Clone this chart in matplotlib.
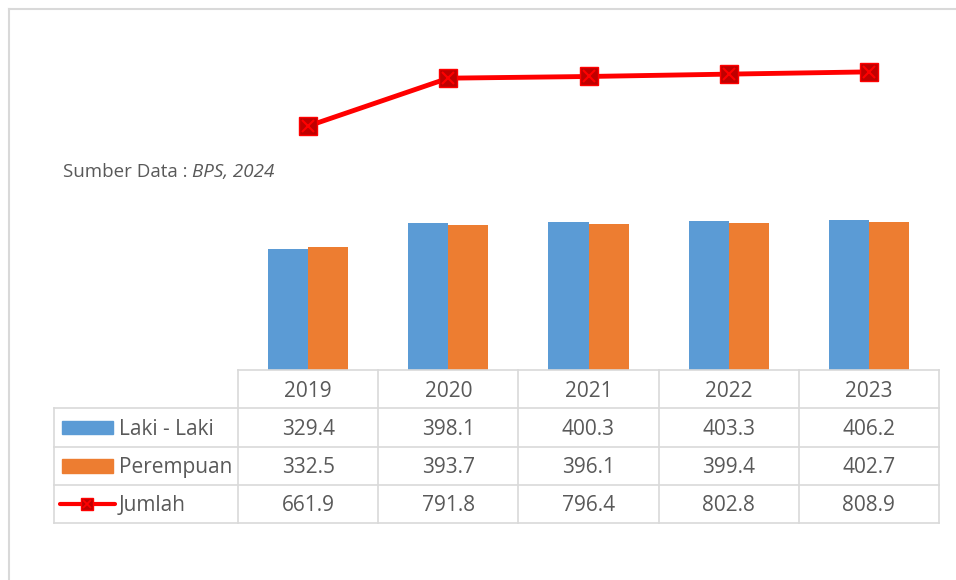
import numpy as np
import matplotlib
matplotlib.use("Agg")
import matplotlib.pyplot as plt
from matplotlib.lines import Line2D
from matplotlib.patches import Rectangle

# Data (BPS, 2024)
years = ['2019', '2020', '2021', '2022', '2023']
laki = [329.4, 398.1, 400.3, 403.3, 406.2]
perempuan = [332.5, 393.7, 396.1, 399.4, 402.7]
jumlah = [661.9, 791.8, 796.4, 802.8, 808.9]
series_names = ['Laki - Laki', 'Perempuan', 'Jumlah']

BLUE = '#5B9BD5'
ORANGE = '#ED7D31'
RED = '#FF0000'
DARKRED = '#C00000'
GRID = '#D9D9D9'
TEXT = '#595959'

W, H = 956, 580
plt.rcParams['font.family'] = ['Open Sans', 'DejaVu Sans']

fig = plt.figure(figsize=(W / 100, H / 100), dpi=100)


def fx(x):
    return x / W


def fy(y):
    return 1 - y / H


# plot area (hidden axes), aligned with table columns
left, right, base, top = 238, 939, 370, 38.3
ax = fig.add_axes([fx(left), fy(base), fx(right - left), fy(top) - fy(base)])
ax.set_xlim(-0.5, len(years) - 0.5)
ax.set_ylim(0, 900)
ax.axis('off')

x = np.arange(len(years))
bw = 0.2857
ax.bar(x - bw / 2, laki, width=bw, color=BLUE)
ax.bar(x + bw / 2, perempuan, width=bw, color=ORANGE)
ax.plot(x, jumlah, color=RED, lw=3.5, marker='s', markersize=12.5,
        markerfacecolor=DARKRED, markeredgecolor=RED, markeredgewidth=1, zorder=3)
ax.plot(x, jumlah, ls='none', marker='x', markersize=9, color=RED, mew=1.5, zorder=4)

# outer frame (top and left edges)
fig.add_artist(Line2D([fx(9), fx(956)], [fy(9), fy(9)], color=GRID, lw=1.5))
fig.add_artist(Line2D([fx(9), fx(9)], [fy(9), fy(580)], color=GRID, lw=1.5))

# source note
t1 = fig.text(fx(63), fy(172), 'Sumber Data : ', fontsize=13.5, color=TEXT,
              va='center', ha='left')
fig.canvas.draw()
bb = t1.get_window_extent()
fig.text(bb.x1 / W, fy(172), 'BPS, 2024', fontsize=13.5, color=TEXT, va='center', ha='left',
         style='italic')

# data table
col_edges = [left + (right - left) / len(years) * i for i in range(len(years) + 1)]
row_edges = [370, 408, 447, 485, 523]
tab_left = 54
lw_grid = 1.2
FS = 15
cap_half = FS * 1.389 * 0.714 / 2

# horizontal lines
fig.add_artist(Line2D([fx(left), fx(right)], [fy(row_edges[0])] * 2, color=GRID, lw=lw_grid))
for ry in row_edges[1:]:
    fig.add_artist(Line2D([fx(tab_left), fx(right)], [fy(ry)] * 2, color=GRID, lw=lw_grid))
# vertical lines
fig.add_artist(Line2D([fx(tab_left)] * 2, [fy(row_edges[1]), fy(row_edges[-1])], color=GRID, lw=lw_grid))
for cx in col_edges:
    fig.add_artist(Line2D([fx(cx)] * 2, [fy(row_edges[0]), fy(row_edges[-1])], color=GRID, lw=lw_grid))

centers = [(col_edges[i] + col_edges[i + 1]) / 2 for i in range(len(years))]
hy = (row_edges[0] + row_edges[1]) / 2 + 1
for cx, yr in zip(centers, years):
    fig.text(fx(cx), fy(hy + cap_half), yr, fontsize=FS, color=TEXT, ha='center', va='baseline')

rows = [laki, perempuan, jumlah]
for r, (name, vals) in enumerate(zip(series_names, rows)):
    cy = (row_edges[r + 1] + row_edges[r + 2]) / 2
    for cx, v in zip(centers, vals):
        fig.text(fx(cx), fy(cy + cap_half), f'{v:.1f}', fontsize=FS, color=TEXT,
                 ha='center', va='baseline')
    fig.text(fx(119), fy(cy + cap_half), name, fontsize=FS, color=TEXT, ha='left', va='baseline')
    if r < 2:
        fig.add_artist(Rectangle((fx(62), fy(cy + 6.5)), fx(51), fy(cy - 6.5) - fy(cy + 6.5),
                                 color=[BLUE, ORANGE][r], transform=fig.transFigure))
    else:
        fig.add_artist(Line2D([fx(60), fx(115)], [fy(cy), fy(cy)], color=RED, lw=3,
                              solid_capstyle='round'))
        fig.add_artist(Line2D([fx(87)], [fy(cy)], ls='none', marker='s', markersize=9,
                              markerfacecolor=DARKRED, markeredgecolor=RED))
        fig.add_artist(Line2D([fx(87)], [fy(cy)], ls='none', marker='x', markersize=6,
                              color=RED, mew=1.3))

fig.savefig('out.png', dpi=100)
